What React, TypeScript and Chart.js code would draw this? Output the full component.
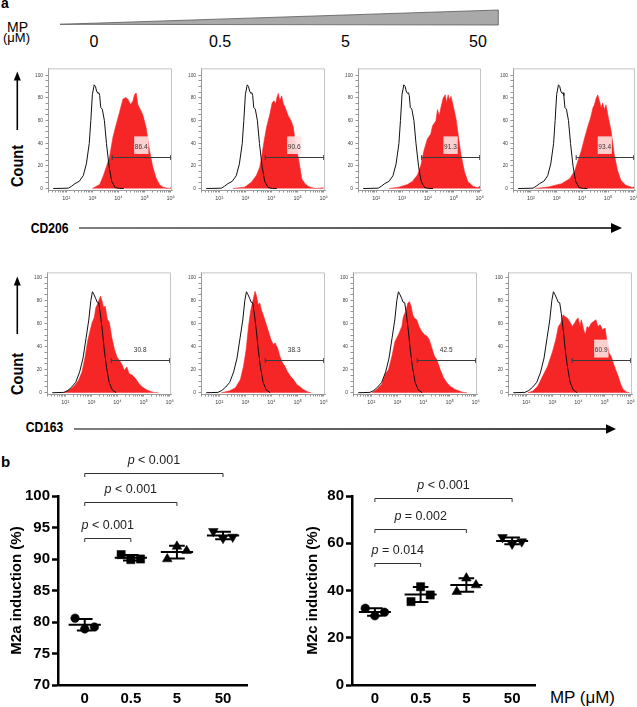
import React, { useEffect, useRef } from 'react';
import { Chart, registerables } from 'chart.js';

Chart.register(...registerables);

const FONT = '"Liberation Sans", Arial, Helvetica, sans-serif';
Chart.defaults.font.family = FONT;

// ================= DATA =================
const DOSES = ['0', '0.5', '5', '50'];

// Flow cytometry histograms: [log10 fluorescence, % of max count]
const CD206_CONTROL = [[1.5,0],[2.08,0.3],[2.2,2],[2.33,4.3],[2.5,6.4],[2.65,11.3],[2.77,21.7],[2.88,39.7],[2.94,60],[3.0,83],[3.07,91.5],[3.12,90],[3.16,86],[3.21,84],[3.25,84.5],[3.28,82],[3.32,71.6],[3.38,70],[3.46,60],[3.54,39.7],[3.64,19.4],[3.74,6.4],[3.87,0.9],[4.04,0],[4.2,0]];
const CD206_MP0 = [[3.0,0],[3.28,3.5],[3.41,10.7],[3.54,19.4],[3.66,28.1],[3.79,45.5],[3.92,57.1],[4.04,67.2],[4.17,78.8],[4.27,80.3],[4.36,78.8],[4.46,74.2],[4.55,77.1],[4.62,82.9],[4.68,84.3],[4.74,74.2],[4.83,69.9],[4.93,65.2],[5.06,53.6],[5.19,33.3],[5.31,19.4],[5.44,9.3],[5.57,3.5],[5.7,1.2],[5.95,0],[6.05,1.5]];
const CD206_MP05 = [[2.52,0],[2.97,1.2],[3.23,5.6],[3.42,11.4],[3.55,18.8],[3.62,27.6],[3.72,42.2],[3.81,53.9],[3.94,65.7],[4.03,75.9],[4.1,77.4],[4.16,74.5],[4.21,80.4],[4.26,83.9],[4.32,77.4],[4.39,81.8],[4.45,75.1],[4.52,71.6],[4.64,64.2],[4.75,59.8],[4.84,53.9],[4.9,42.2],[5.0,30.5],[5.09,18.8],[5.16,8.5],[5.29,4.1],[5.42,1.8],[5.67,0],[6.0,0.6]];
const CD206_MP5 = [[2.49,0],[2.88,1.2],[3.21,3.5],[3.4,6.3],[3.6,12.1],[3.73,20.7],[3.85,33.7],[3.98,43.8],[4.11,48.1],[4.18,55.3],[4.31,59.7],[4.37,69.7],[4.44,64],[4.5,71.2],[4.59,79.8],[4.67,82.7],[4.72,75.5],[4.78,82.7],[4.83,78.4],[4.89,81.3],[4.98,72.6],[5.09,61.1],[5.19,43.8],[5.28,29.4],[5.41,15],[5.54,6.3],[5.74,2],[5.93,0.6],[6.05,2.9]];
const CD206_MP50 = [[2.17,0],[2.68,1.4],[3.19,4.3],[3.51,8.7],[3.71,15.9],[3.83,24.6],[3.96,33.3],[4.09,44.9],[4.22,55.1],[4.32,62.3],[4.41,71],[4.47,73.9],[4.54,79.7],[4.6,82.6],[4.67,76.8],[4.73,71],[4.79,75.4],[4.86,69.6],[4.92,73.9],[4.99,65.2],[5.12,50.7],[5.24,30.4],[5.37,15.9],[5.5,7.2],[5.69,2.9],[5.95,0.9],[6.05,2]];

const CD163_CONTROL = [[1.5,0],[1.95,0.3],[2.1,2],[2.25,5],[2.4,9],[2.55,18],[2.68,30],[2.8,48],[2.9,63],[2.98,80],[3.04,87.5],[3.1,85],[3.16,82],[3.22,78.5],[3.28,78],[3.34,69],[3.42,54],[3.5,36],[3.58,22],[3.68,9],[3.8,2.5],[3.95,0]];
const CD163_MP0 = [[1.95,0],[2.14,2.3],[2.32,5.1],[2.51,10.9],[2.64,18],[2.76,30.9],[2.86,45.1],[2.95,53.7],[3.03,60.9],[3.11,65.1],[3.17,73.7],[3.23,76.6],[3.3,80.9],[3.35,83.7],[3.41,79.4],[3.47,73.7],[3.53,75.1],[3.61,63.7],[3.69,60.9],[3.78,48],[3.88,38],[3.98,30.9],[4.07,28],[4.16,25.1],[4.26,19.4],[4.36,22.3],[4.44,16.6],[4.57,15.1],[4.69,12.3],[4.82,8],[4.94,5.1],[5.13,2.3],[5.38,0.3],[5.56,0]];
const CD163_MP05 = [[2.07,0],[2.38,1.4],[2.62,4.3],[2.81,11.5],[2.93,23.1],[3.03,37.5],[3.12,57.6],[3.2,70.6],[3.3,80.7],[3.37,87.9],[3.43,83.6],[3.49,76.4],[3.55,77.8],[3.61,72],[3.7,66.3],[3.8,59.1],[3.9,51.9],[3.98,46.1],[4.07,41.8],[4.14,43.2],[4.23,38.9],[4.32,31.7],[4.42,25.9],[4.51,23.1],[4.6,18.7],[4.72,14.4],[4.84,11.5],[4.97,7.2],[5.09,5.2],[5.21,2.9],[5.4,0.6],[5.52,0]];
const CD163_MP5 = [[2.02,0],[2.21,2.9],[2.4,7.2],[2.53,15.8],[2.66,20.1],[2.79,31.6],[2.91,44.5],[3.04,50.3],[3.17,57.5],[3.23,66.1],[3.32,70.4],[3.4,77.6],[3.46,79],[3.53,74.7],[3.59,67.5],[3.65,64.7],[3.74,63.2],[3.83,57.5],[3.93,53.2],[4.04,50.3],[4.14,48.9],[4.22,46],[4.32,38.8],[4.42,31.6],[4.51,28.7],[4.64,20.1],[4.77,12.9],[4.9,8.6],[5.02,5.7],[5.21,2.9],[5.47,0.6],[5.66,0]];
const CD163_MP50 = [[2.06,0],[2.25,1.4],[2.44,5.7],[2.63,14.4],[2.82,23],[3.01,35.9],[3.13,46],[3.23,57.5],[3.32,60.3],[3.41,67.5],[3.48,66.1],[3.57,64.7],[3.66,61.8],[3.76,57.5],[3.85,60.3],[3.92,63.2],[3.99,64.7],[4.05,57.5],[4.11,63.2],[4.2,54.6],[4.26,50.3],[4.33,57.5],[4.39,56],[4.49,60.3],[4.58,61.8],[4.67,63.2],[4.74,57.5],[4.83,58.9],[4.92,54.6],[5.02,56],[5.09,44.5],[5.17,34.5],[5.25,31.6],[5.33,25.9],[5.42,20.1],[5.52,14.4],[5.62,7.2],[5.71,2.9],[5.84,0.6],[5.96,0]];

const CD206_GATE = ['86.4', '90.6', '91.3', '93.4'];
const CD163_GATE = ['30.8', '38.3', '42.5', '60.9'];

const HIST_Y_TICKS = [0, 20, 40, 60, 80, 100];
const DECADES = [2, 3, 4, 5, 6];
const DECADE_LABELS = ['10²', '10³', '10⁴', '10⁵', '10⁶'];

// Panel b: % induction, three replicates per dose
const M2A_0 = [80.6, 78.9, 79.2];
const M2A_05 = [90.7, 89.9, 90.0];
const M2A_5 = [90.0, 92.0, 91.3];
const M2A_50 = [94.4, 93.3, 93.5];
const M2C_0 = [32.5, 29.3, 30.8];
const M2C_05 = [35.3, 41.6, 38.1];
const M2C_5 = [39.5, 45.2, 42.3];
const M2C_50 = [62.5, 59.7, 60.7];
const M2A_TICKS = [70, 75, 80, 85, 90, 95, 100];
const M2C_TICKS = [0, 20, 40, 60, 80];
const M2A_P = ['< 0.001', '< 0.001', '< 0.001'];
const M2C_P = ['= 0.014', '= 0.002', '< 0.001'];

// ================= LAYOUT / STYLE =================
const RED = 'rgb(246, 38, 38)';
const HX_MIN = 1.3, HX_MAX = 6.05;
const AXW = 22, PADT = 4, PADR = 8, AXH = 16;
const HIST_ROWS = [
  { top: 67, bottom: 190, yMin: -1.3, yMax: 106, boxes: [[48, 172], [201, 325], [358, 481], [513, 635]] },
  { top: 271, bottom: 394, yMin: -1.1, yMax: 104.3, boxes: [[47, 171], [201, 325], [353, 477], [508, 632]] },
];
const GATE = { from: 3.76, to: 6.0, y: 28, labelX: 4.87, labelY: 36.5, pink: [4.6, 5.15, 30.5, 46] };
const JITTER = [-0.21, 0, 0.21];
const MEAN_HALF = 0.35, CAP_HALF = 0.17;
const MARKERS = [
  { style: 'circle', r: 4.3, rot: 0 },
  { style: 'rect', r: 5.8, rot: 0 },
  { style: 'triangle', r: 5.6, rot: 0 },
  { style: 'triangle', r: 5.6, rot: 180 },
];

const toXY = (pairs: number[][]) => pairs.map(([x, y]) => ({ x, y }));

function logTicks() {
  const t: number[] = [];
  for (let n = 1; n <= 6; n++) for (let k = 1; k <= 9; k++) {
    const v = n + Math.log10(k);
    if (v >= HX_MIN && v <= HX_MAX) t.push(v);
  }
  return t;
}

function histConfig(ctrl: number[][], red: number[][], label: string, pink: boolean, yMin: number, yMax: number) {
  const gatePlugin = {
    id: 'gate',
    afterDraw(chart: any) {
      const { ctx, chartArea: a, scales } = chart;
      const x = scales.x, y = scales.y;
      ctx.save();
      if (pink) {
        const px0 = x.getPixelForValue(GATE.pink[0]), px1 = x.getPixelForValue(GATE.pink[1]);
        const py0 = y.getPixelForValue(GATE.pink[3]), py1 = y.getPixelForValue(GATE.pink[2]);
        ctx.fillStyle = 'rgba(255, 226, 226, 0.9)';
        ctx.fillRect(px0, py0, px1 - px0, py1 - py0);
      }
      const gx0 = x.getPixelForValue(GATE.from), gx1 = x.getPixelForValue(GATE.to);
      const gy = Math.round(y.getPixelForValue(GATE.y)) + 0.5;
      ctx.strokeStyle = '#3a3a3a';
      ctx.lineWidth = 1;
      ctx.beginPath();
      ctx.moveTo(gx0, gy); ctx.lineTo(gx1, gy);
      ctx.moveTo(gx0, gy - 2.5); ctx.lineTo(gx0, gy + 2.5);
      ctx.moveTo(gx1, gy - 2.5); ctx.lineTo(gx1, gy + 2.5);
      ctx.stroke();
      ctx.fillStyle = '#333';
      ctx.font = `6.5px ${FONT}`;
      ctx.textAlign = 'center';
      ctx.textBaseline = 'middle';
      ctx.fillText(label, x.getPixelForValue(GATE.labelX), y.getPixelForValue(GATE.labelY));
      ctx.strokeStyle = '#c4c4c4';
      ctx.beginPath();
      ctx.moveTo(a.left, a.top + 0.5); ctx.lineTo(a.right - 0.5, a.top + 0.5); ctx.lineTo(a.right - 0.5, a.bottom);
      ctx.stroke();
      ctx.restore();
    },
  };
  return {
    type: 'line',
    data: {
      datasets: [
        { data: toXY(ctrl), borderColor: '#111', borderWidth: 1, pointRadius: 0, fill: false, tension: 0, order: 0 },
        { data: toXY(red), borderColor: RED, backgroundColor: RED, borderWidth: 0.6, pointRadius: 0, fill: 'origin', tension: 0, order: 1 },
      ],
    },
    options: {
      animation: false, responsive: false, devicePixelRatio: 1, events: [],
      layout: { padding: { top: PADT, right: PADR, left: 0, bottom: 0 } },
      plugins: { legend: { display: false }, tooltip: { enabled: false } },
      scales: {
        x: {
          type: 'linear', min: HX_MIN, max: HX_MAX,
          afterBuildTicks: (s: any) => { s.ticks = logTicks().map((v) => ({ value: v })); },
          afterFit: (s: any) => { s.height = AXH; },
          ticks: {
            autoSkip: false, maxRotation: 0, padding: 3, color: '#444', font: { size: 5.5 },
            callback: (v: number) => { const i = DECADES.indexOf(v); return i >= 0 ? DECADE_LABELS[i] : ''; },
          },
          grid: { drawOnChartArea: false, tickLength: 2.5, color: '#666', lineWidth: 0.7 },
          border: { color: '#9a9a9a', width: 1 },
        },
        y: {
          type: 'linear', min: yMin, max: yMax,
          afterBuildTicks: (s: any) => {
            const t: any[] = [];
            for (let v = 0; v <= 100; v += 5) t.push({ value: v });
            s.ticks = t;
          },
          afterFit: (s: any) => { s.width = AXW; },
          ticks: {
            autoSkip: false, padding: 2.5, color: '#444', font: { size: 4.8 },
            callback: (v: number) => (HIST_Y_TICKS.includes(v) ? String(v) : ''),
          },
          grid: { drawOnChartArea: false, tickLength: 2.5, color: '#666', lineWidth: 0.7 },
          border: { color: '#9a9a9a', width: 1 },
        },
      },
    },
    plugins: [gatePlugin],
  };
}

function scatterConfig(o: any) {
  const { groups, yMin, yMax, yTicks, title, xMin, xMax, padTop, padRight, axisW, bracketY, pLabels } = o;
  const errPlugin = {
    id: 'err',
    afterDatasetsDraw(chart: any) {
      const { ctx, scales: { x, y } } = chart;
      ctx.save();
      ctx.strokeStyle = '#000';
      ctx.lineWidth = 2;
      groups.forEach((vals: number[], gi: number) => {
        const n = vals.length;
        const m = vals.reduce((s, v) => s + v, 0) / n;
        const sd = Math.sqrt(vals.reduce((s, v) => s + (v - m) ** 2, 0) / (n - 1));
        const cx = x.getPixelForValue(gi);
        const mh = x.getPixelForValue(gi + MEAN_HALF) - cx;
        const ch = x.getPixelForValue(gi + CAP_HALF) - cx;
        const ym = y.getPixelForValue(m), yt = y.getPixelForValue(m + sd), yb = y.getPixelForValue(m - sd);
        ctx.beginPath();
        ctx.moveTo(cx - mh, ym); ctx.lineTo(cx + mh, ym);
        ctx.moveTo(cx, yt); ctx.lineTo(cx, yb);
        ctx.moveTo(cx - ch, yt); ctx.lineTo(cx + ch, yt);
        ctx.moveTo(cx - ch, yb); ctx.lineTo(cx + ch, yb);
        ctx.stroke();
      });
      ctx.restore();
    },
  };
  const bracketPlugin = {
    id: 'brk',
    afterDraw(chart: any) {
      const { ctx, scales: { x, y } } = chart;
      ctx.save();
      ctx.strokeStyle = '#333';
      ctx.lineWidth = 1;
      ctx.fillStyle = '#222';
      bracketY.forEach((bv: number, k: number) => {
        const x0 = x.getPixelForValue(0), x1 = x.getPixelForValue(k + 1);
        const py = Math.round(y.getPixelForValue(bv)) + 0.5;
        ctx.beginPath();
        ctx.moveTo(x0, py + 3.5); ctx.lineTo(x0, py); ctx.lineTo(x1, py); ctx.lineTo(x1, py + 3.5);
        ctx.stroke();
        const italic = `italic 12.5px ${FONT}`, normal = `12.5px ${FONT}`;
        ctx.font = italic; const wp = ctx.measureText('p').width;
        const rest = ' ' + pLabels[k];
        ctx.font = normal; const wr = ctx.measureText(rest).width;
        const sx = (x0 + x1) / 2 - (wp + wr) / 2, ty = py - 13;
        ctx.textAlign = 'left'; ctx.textBaseline = 'middle';
        ctx.font = italic; ctx.fillText('p', sx, ty);
        ctx.font = normal; ctx.fillText(rest, sx + wp, ty);
      });
      ctx.restore();
    },
  };
  return {
    type: 'scatter',
    data: {
      datasets: groups.map((vals: number[], gi: number) => ({
        data: vals.map((v, j) => ({ x: gi + JITTER[j], y: v })),
        pointStyle: MARKERS[gi].style, pointRadius: MARKERS[gi].r, pointRotation: MARKERS[gi].rot,
        pointBackgroundColor: '#000', pointBorderColor: '#000', pointBorderWidth: 0.5, showLine: false,
      })),
    },
    options: {
      animation: false, responsive: false, devicePixelRatio: 1, events: [],
      layout: { padding: { top: padTop, right: padRight, left: 0, bottom: 0 } },
      plugins: { legend: { display: false }, tooltip: { enabled: false } },
      scales: {
        x: {
          type: 'linear', min: xMin, max: xMax,
          afterBuildTicks: (s: any) => { s.ticks = DOSES.map((_, i) => ({ value: i })); },
          afterFit: (s: any) => { s.height = 22; },
          ticks: { autoSkip: false, maxRotation: 0, padding: 5, color: '#000', font: { size: 15, weight: 'bold' }, callback: (v: number) => DOSES[v] ?? '' },
          grid: { display: false, drawTicks: false, tickLength: 0 },
          border: { color: '#000', width: 2.5 },
        },
        y: {
          type: 'linear', min: yMin, max: yMax,
          afterBuildTicks: (s: any) => { s.ticks = yTicks.map((v: number) => ({ value: v })); },
          afterFit: (s: any) => { s.width = axisW; },
          ticks: { autoSkip: false, padding: 2, color: '#000', font: { size: 15, weight: 'bold' } },
          grid: { drawOnChartArea: false, tickLength: 6, tickWidth: 2.5, tickColor: '#000', color: '#000' },
          border: { color: '#000', width: 2.5 },
          title: { display: true, text: title, color: '#000', font: { size: 15, weight: 'bold' }, padding: { top: 8, bottom: 0 } },
        },
      },
    },
    plugins: [errPlugin, bracketPlugin],
  };
}

function CanvasChart({ box, build }: { box: { left: number; top: number; width: number; height: number }; build: () => any }) {
  const ref = useRef<HTMLCanvasElement | null>(null);
  useEffect(() => {
    if (!ref.current) return;
    const chart = new Chart(ref.current, build());
    return () => chart.destroy();
  }, []);
  return (
    <div style={{ position: 'absolute', left: box.left, top: box.top, width: box.width, height: box.height }}>
      <canvas ref={ref} width={box.width} height={box.height} style={{ display: 'block', width: box.width, height: box.height }} />
    </div>
  );
}

function Decor() {
  const doseX = [94, 220, 345.5, 478];
  return (
    <svg width={637} height={707} style={{ position: 'absolute', left: 0, top: 0 }} fontFamily={FONT}>
      <defs>
        <linearGradient id="ax1" gradientUnits="userSpaceOnUse" x1={79} y1={0} x2={612} y2={0}>
          <stop offset="0" stopColor="#555" /><stop offset="1" stopColor="#000" />
        </linearGradient>
        <linearGradient id="ax2" gradientUnits="userSpaceOnUse" x1={74} y1={0} x2={606} y2={0}>
          <stop offset="0" stopColor="#555" /><stop offset="1" stopColor="#000" />
        </linearGradient>
      </defs>
      <text x={1} y={8} fontSize={14} fontWeight="bold">a</text>
      <text x={7} y={31.5} fontSize={14}>MP</text>
      <text x={3} y={42} fontSize={13}>(μM)</text>
      <polygon points="60,24.3 498.3,10 498.3,25" fill="#a9a9a9" stroke="#5a5a5a" strokeWidth={0.8} />
      {DOSES.map((d, i) => (
        <text key={d} x={doseX[i]} y={46.5} fontSize={16} textAnchor="middle">{d}</text>
      ))}
      <text transform="translate(23.3,166) rotate(-90)" textAnchor="middle" fontSize={16} fontWeight="bold" textLength={42} lengthAdjust="spacingAndGlyphs">Count</text>
      <text transform="translate(23.3,374) rotate(-90)" textAnchor="middle" fontSize={16} fontWeight="bold" textLength={42} lengthAdjust="spacingAndGlyphs">Count</text>
      <line x1={17.3} y1={130} x2={17.3} y2={79} stroke="#000" strokeWidth={1.6} />
      <polygon points="17.3,71.5 13.8,80.5 20.8,80.5" fill="#000" />
      <line x1={17.3} y1={334} x2={17.3} y2={284} stroke="#000" strokeWidth={1.6} />
      <polygon points="17.3,276.5 13.8,285.5 20.8,285.5" fill="#000" />
      <text x={30.7} y={233} fontSize={14} fontWeight="bold" textLength={37.7} lengthAdjust="spacingAndGlyphs">CD206</text>
      <line x1={79} y1={228} x2={612} y2={228} stroke="url(#ax1)" strokeWidth={1.5} />
      <polygon points="622,228 611,223 611,233" fill="#000" />
      <text x={25.7} y={432} fontSize={14} fontWeight="bold" textLength={37.6} lengthAdjust="spacingAndGlyphs">CD163</text>
      <line x1={74} y1={429} x2={607} y2={429} stroke="url(#ax2)" strokeWidth={1.5} />
      <polygon points="616,429 606,424.3 606,433.7" fill="#000" />
      <text x={1} y={466.5} fontSize={15} fontWeight="bold">b</text>
      <text x={550} y={703.3} fontSize={16} textLength={65} lengthAdjust="spacingAndGlyphs">MP (μM)</text>
    </svg>
  );
}

const CD206_SERIES = [CD206_MP0, CD206_MP05, CD206_MP5, CD206_MP50];
const CD163_SERIES = [CD163_MP0, CD163_MP05, CD163_MP5, CD163_MP50];

export default function App() {
  const panels: any[] = [];
  HIST_ROWS.forEach((row, ri) => {
    row.boxes.forEach(([l, r], pi) => {
      const ctrl = ri === 0 ? CD206_CONTROL : CD163_CONTROL;
      const red = ri === 0 ? CD206_SERIES[pi] : CD163_SERIES[pi];
      const label = ri === 0 ? CD206_GATE[pi] : CD163_GATE[pi];
      const pink = ri === 0 || pi === 3;
      const box = { left: l - AXW, top: row.top - PADT, width: r - l + AXW + PADR, height: row.bottom - row.top + PADT + AXH };
      panels.push(
        <CanvasChart key={`h${ri}${pi}`} box={box} build={() => histConfig(ctrl, red, label, pink, row.yMin, row.yMax)} />
      );
    });
  });
  return (
    <div style={{ position: 'fixed', left: 0, top: 0, width: 637, height: 707, overflow: 'hidden', background: '#fff' }}>
      <Decor />
      {panels}
      <CanvasChart
        box={{ left: 0, top: 450, width: 258, height: 257 }}
        build={() => scatterConfig({
          groups: [M2A_0, M2A_05, M2A_5, M2A_50], yMin: 70, yMax: 100, yTicks: M2A_TICKS,
          title: 'M2a induction (%)', xMin: -0.58, xMax: 3.52, padTop: 46, padRight: 11, axisW: 58,
          bracketY: [93.4, 99.0, 103.7], pLabels: M2A_P,
        })}
      />
      <CanvasChart
        box={{ left: 296, top: 450, width: 250, height: 257 }}
        build={() => scatterConfig({
          groups: [M2C_0, M2C_05, M2C_5, M2C_50], yMin: 0, yMax: 80, yTicks: M2C_TICKS,
          title: 'M2c induction (%)', xMin: -0.5, xMax: 3.5, padTop: 46, padRight: 11, axisW: 56,
          bracketY: [51.5, 66.2, 79.0], pLabels: M2C_P,
        })}
      />
    </div>
  );
}
